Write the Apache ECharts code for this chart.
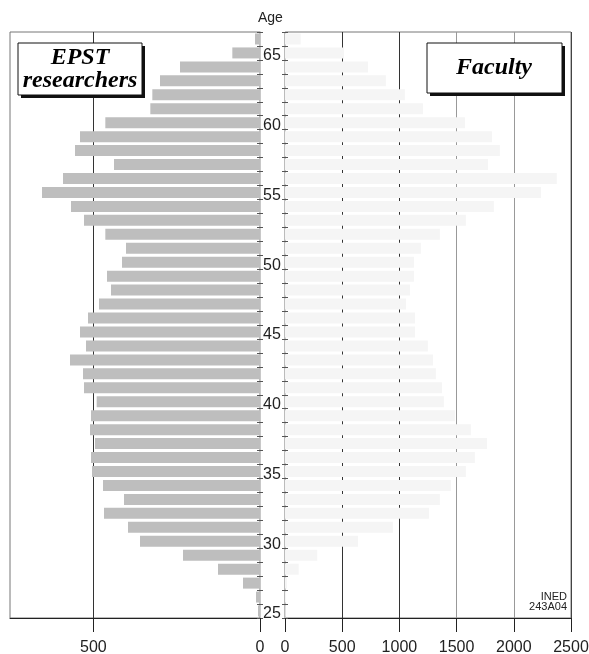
<!DOCTYPE html>
<html>
<head>
<meta charset="utf-8">
<script src="https://cdn.jsdelivr.net/npm/echarts@6/dist/echarts.min.js"></script>
<style>html,body{margin:0;padding:0;background:#fff}#c{width:589px;height:654px}</style>
</head>
<body>
<div id="c"></div>
<script>
const ages = [25,26,27,28,29,30,31,32,33,34,35,36,37,38,39,40,41,42,43,44,45,46,47,48,49,50,51,52,53,54,55,56,57,58,59,60,61,62,63,64,65,66];
const epstResearchers = [6,12,51,126,231,360,396,468,408,471,504,507,495,510,507,490,528,531,570,522,540,516,483,447,459,414,402,464,528,567,654,591,438,555,540,464,329,323,300,240,83,15];
const faculty = [5,10,17,120,282,638,943,1258,1354,1450,1581,1660,1765,1625,1485,1389,1372,1319,1293,1249,1136,1136,1057,1092,1127,1127,1188,1354,1581,1826,2237,2376,1774,1878,1809,1573,1206,1048,882,725,515,137];
const leftTicks = [0,500];
const rightTicks = [0,500,1000,1500,2000,2500];
const ageLabels = [25,30,35,40,45,50,55,60,65];

const FONT = '"Liberation Sans", Arial, sans-serif';
const SERIF = '"Liberation Serif", "Times New Roman", serif';

const chart = echarts.init(document.getElementById('c'), null, {renderer: 'canvas'});
const catAxisBase = {
  type: 'category', data: ages, boundaryGap: true,
  axisLine: {show: true, lineStyle: {color: '#c8c8c8', width: 1}},
  splitLine: {show: false}
};
chart.setOption({
  animation: false,
  grid: [
    {left: 10, top: 32, width: 250, height: 586, show: true, borderColor: '#777', borderWidth: 1, outerBoundsMode: 'none', containLabel: false},
    {left: 285, top: 32, width: 286, height: 586, show: true, borderColor: '#777', borderWidth: 1, outerBoundsMode: 'none', containLabel: false}
  ],
  xAxis: [
    {
      gridIndex: 0, type: 'value', inverse: true, min: 0, max: 750, interval: 500, position: 'bottom',
      axisLine: {show: true, lineStyle: {color: '#222'}},
      axisTick: {show: true, length: 14, lineStyle: {color: '#222'}, customValues: leftTicks},
      axisLabel: {customValues: leftTicks, margin: 22, color: '#222', fontFamily: FONT, fontSize: 16, formatter: v => String(v)},
      splitLine: {show: true, lineStyle: {color: ['#c8c8c8', '#333', '#777']}}
    },
    {
      gridIndex: 1, type: 'value', min: 0, max: 2500, interval: 500, position: 'bottom',
      axisLine: {show: true, lineStyle: {color: '#222'}},
      axisTick: {show: true, length: 14, lineStyle: {color: '#222'}, customValues: rightTicks},
      axisLabel: {customValues: rightTicks, margin: 22, color: '#222', fontFamily: FONT, fontSize: 16, formatter: v => String(v)},
      splitLine: {show: true, lineStyle: {color: ['#c8c8c8', '#333', '#333', '#999', '#999', '#444']}}
    }
  ],
  yAxis: [
    Object.assign({}, catAxisBase, {
      gridIndex: 0, position: 'right',
      axisTick: {show: true, inside: false, length: 3, interval: 0, lineStyle: {color: '#555'}},
      axisLabel: {
        show: true, margin: 3, color: '#222', fontFamily: FONT, fontSize: 16,
        interval: 0,
        formatter: v => (ageLabels.indexOf(Number(v)) >= 0 ? '{a|' + v + '}' : ''),
        rich: {a: {fontFamily: FONT, fontSize: 16, color: '#222', padding: [6, 0, 0, 0]}}
      }
    }),
    Object.assign({}, catAxisBase, {
      gridIndex: 0, position: 'right',
      axisTick: {show: true, inside: true, length: 3, interval: 0, lineStyle: {color: '#555'}},
      axisLabel: {show: false}
    }),
    Object.assign({}, catAxisBase, {
      gridIndex: 1, position: 'left',
      axisTick: {show: true, inside: false, length: 3, interval: 0, lineStyle: {color: '#555'}},
      axisLabel: {show: false}
    }),
    Object.assign({}, catAxisBase, {
      gridIndex: 1, position: 'left',
      axisTick: {show: true, inside: true, length: 3, interval: 0, lineStyle: {color: '#555'}},
      axisLabel: {show: false}
    })
  ],
  series: [
    {
      name: 'EPST researchers', type: 'bar', xAxisIndex: 0, yAxisIndex: 0,
      data: epstResearchers, barWidth: 11, itemStyle: {color: '#bebebe'}, silent: true
    },
    {
      name: 'Faculty', type: 'bar', xAxisIndex: 1, yAxisIndex: 2,
      data: faculty, barWidth: 11, itemStyle: {color: '#f5f5f5'}, silent: true
    }
  ],
  graphic: [
    {type: 'text', left: 258, top: 11, style: {text: 'Age', font: '14px ' + FONT, fill: '#222'}},
    {type: 'rect', shape: {x: 21, y: 46, width: 124, height: 52}, style: {fill: '#111'}, z: 100},
    {type: 'rect', shape: {x: 18, y: 43, width: 124, height: 52}, style: {fill: '#fff', stroke: '#111', lineWidth: 1}, z: 101},
    {type: 'text', x: 80, y: 58, z: 102, style: {text: 'EPST', font: 'italic bold 24px ' + SERIF, fill: '#000', align: 'center', verticalAlign: 'middle'}},
    {type: 'text', x: 80, y: 81, z: 102, style: {text: 'researchers', font: 'italic bold 24px ' + SERIF, fill: '#000', align: 'center', verticalAlign: 'middle'}},
    {type: 'rect', shape: {x: 430, y: 46, width: 135, height: 50}, style: {fill: '#111'}, z: 100},
    {type: 'rect', shape: {x: 427, y: 43, width: 135, height: 50}, style: {fill: '#fff', stroke: '#111', lineWidth: 1}, z: 101},
    {type: 'text', x: 494, y: 68, z: 102, style: {text: 'Faculty', font: 'italic bold 24px ' + SERIF, fill: '#000', align: 'center', verticalAlign: 'middle'}},
    {type: 'text', x: 567, y: 597, z: 102, style: {text: 'INED', font: '11px ' + FONT, fill: '#222', align: 'right', verticalAlign: 'middle'}},
    {type: 'text', x: 567, y: 607, z: 102, style: {text: '243A04', font: '11px ' + FONT, fill: '#222', align: 'right', verticalAlign: 'middle'}}
  ]
});
</script>
</body>
</html>
